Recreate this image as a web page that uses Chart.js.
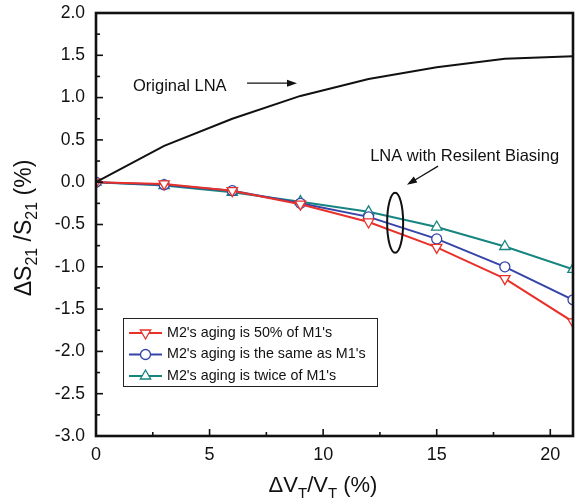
<!DOCTYPE html>
<html>
<head>
<meta charset="utf-8">
<script src="https://cdn.jsdelivr.net/npm/chart.js@4"></script>
<style>
  html, body { margin: 0; padding: 0; background: #fff; }
  #wrap { width: 575px; height: 501px; }
</style>
</head>
<body>
<div id="wrap"><canvas id="c" width="575" height="501"></canvas></div>
<script>
// values
const xValues   = [0, 3, 6, 9, 12, 15, 18, 21];
const original  = [0, 0.43, 0.75, 1.02, 1.22, 1.36, 1.46, 1.49];
const half      = [0, -0.02, -0.10, -0.26, -0.47, -0.77, -1.14, -1.65];
const same      = [0, -0.03, -0.10, -0.25, -0.41, -0.67, -1.00, -1.39];
const twice     = [0, -0.04, -0.12, -0.23, -0.35, -0.53, -0.76, -1.03];
const seriesLabels = ["M2's aging is 50% of M1's", "M2's aging is the same as M1's", "M2's aging is twice of M1's"];
const xTicks = [0, 5, 10, 15, 20];
const yTicks = [2.0, 1.5, 1.0, 0.5, 0.0, -0.5, -1.0, -1.5, -2.0, -2.5, -3.0];

const FONT = '"Liberation Sans", Arial, Helvetica, sans-serif';
const RED = '#e8312a', BLUE = '#3544a8', TEAL = '#16857f';

const pts = arr => arr.map((v, i) => ({ x: xValues[i], y: v }));

function marked(label, data, color, style, rot, r) {
  return {
    label, data: pts(data), borderColor: color, borderWidth: 2,
    pointStyle: style, rotation: rot, pointRadius: r,
    pointBackgroundColor: '#fff', pointBorderColor: color, pointBorderWidth: 1.3
  };
}

// frame, inward ticks, axis titles, annotations, legend
const decor = {
  id: 'decor',
  afterDraw(chart) {
    const { ctx, chartArea: a, scales: { x, y } } = chart;
    ctx.save();
    ctx.strokeStyle = '#111';
    ctx.lineWidth = 1.6;
    for (let v = 0; v <= 21; v += 2.5) {
      const px = x.getPixelForValue(v), len = v % 5 === 0 ? 7 : 4;
      ctx.beginPath(); ctx.moveTo(px, a.bottom); ctx.lineTo(px, a.bottom - len); ctx.stroke();
    }
    for (let v = -3; v <= 2; v += 0.25) {
      const py = y.getPixelForValue(v), len = Math.abs(v * 2 - Math.round(v * 2)) < 1e-6 ? 7 : 4;
      ctx.beginPath(); ctx.moveTo(a.left, py); ctx.lineTo(a.left + len, py); ctx.stroke();
    }
    ctx.lineWidth = 2.6;
    ctx.strokeRect(a.left, a.top, a.right - a.left, a.bottom - a.top);

    // axis titles with subscripts
    ctx.fillStyle = '#111';
    ctx.textBaseline = 'alphabetic';
    function subText(parts, cx, cy, rotate, size) {
      const sub = Math.round(size * 0.68);
      ctx.save();
      ctx.translate(cx, cy);
      if (rotate) ctx.rotate(-Math.PI / 2);
      let w = 0;
      parts.forEach(p => { ctx.font = (p.sub ? sub : size) + 'px ' + FONT; w += ctx.measureText(p.t).width; });
      let xx = -w / 2;
      parts.forEach(p => {
        ctx.font = (p.sub ? sub : size) + 'px ' + FONT;
        ctx.fillText(p.t, xx, p.sub ? 12 : 6);
        xx += ctx.measureText(p.t).width;
      });
      ctx.restore();
    }
    subText([{ t: '\u0394S' }, { t: '21', sub: 1 }, { t: ' /S' }, { t: '21', sub: 1 }, { t: ' (%)' }], 25, 228, true, 23);
    subText([{ t: '\u0394V' }, { t: 'T', sub: 1 }, { t: '/V' }, { t: 'T', sub: 1 }, { t: ' (%)' }], 323, 486, false, 22);

    // annotations (data coordinates)
    const P = (vx, vy) => [x.getPixelForValue(vx), y.getPixelForValue(vy)];
    ctx.font = '16.5px ' + FONT;
    ctx.textAlign = 'left';
    let p = P(1.63, 1.08); ctx.fillText('Original LNA', p[0], p[1]);
    p = P(12.07, 0.25); ctx.fillText('LNA with Resilent Biasing', p[0], p[1]);
    function arrow(x0, y0, x1, y1) {
      const a0 = P(x0, y0), a1 = P(x1, y1);
      const ang = Math.atan2(a1[1] - a0[1], a1[0] - a0[0]);
      ctx.lineWidth = 1.2;
      ctx.beginPath(); ctx.moveTo(a0[0], a0[1]);
      ctx.lineTo(a1[0] - 6 * Math.cos(ang), a1[1] - 6 * Math.sin(ang)); ctx.stroke();
      ctx.beginPath();
      ctx.moveTo(a1[0], a1[1]);
      ctx.lineTo(a1[0] - 10 * Math.cos(ang) + 3.5 * Math.sin(ang), a1[1] - 10 * Math.sin(ang) - 3.5 * Math.cos(ang));
      ctx.lineTo(a1[0] - 10 * Math.cos(ang) - 3.5 * Math.sin(ang), a1[1] - 10 * Math.sin(ang) + 3.5 * Math.cos(ang));
      ctx.closePath(); ctx.fill();
    }
    arrow(6.65, 1.17, 8.85, 1.17);
    arrow(15.06, 0.19, 13.69, -0.03);
    const e = P(13.17, -0.48);
    ctx.lineWidth = 2;
    ctx.beginPath(); ctx.ellipse(e[0], e[1], 8, 30, 0, 0, Math.PI * 2); ctx.stroke();

    // legend
    const lx = a.left + 27, ly = a.top + 305;
    ctx.lineWidth = 1;
    ctx.strokeStyle = '#222';
    ctx.strokeRect(lx + 0.5, ly + 0.5, 254, 68);
    ctx.font = '14.3px ' + FONT;
    ctx.textBaseline = 'middle';
    chart.data.datasets.slice(1).forEach((ds, i) => {
      const yy = ly + 15 + i * 21.5;
      ctx.strokeStyle = ds.borderColor; ctx.lineWidth = 2;
      ctx.beginPath(); ctx.moveTo(lx + 6, yy); ctx.lineTo(lx + 39, yy); ctx.stroke();
      ctx.fillStyle = '#fff'; ctx.lineWidth = 1.3;
      Chart.helpers.drawPoint(ctx, { pointStyle: ds.pointStyle, rotation: ds.rotation, radius: ds.pointRadius, borderWidth: 1.3 }, lx + 22.5, yy);
      ctx.fillStyle = '#111';
      ctx.fillText(ds.label, lx + 44, yy);
    });
    ctx.restore();
  }
};

new Chart(document.getElementById('c'), {
  type: 'line',
  data: {
    datasets: [
      { label: 'Original LNA', data: pts(original), borderColor: '#111', borderWidth: 2, pointRadius: 0 },
      marked(seriesLabels[0], half, RED, 'triangle', 180, 6),
      marked(seriesLabels[1], same, BLUE, 'circle', 0, 5),
      marked(seriesLabels[2], twice, TEAL, 'triangle', 0, 6)
    ]
  },
  options: {
    responsive: false,
    animation: false,
    layout: { autoPadding: false, padding: { left: 0, right: 2, top: 13, bottom: 0 } },
    plugins: { legend: { display: false }, tooltip: { enabled: false } },
    scales: {
      x: {
        type: 'linear', min: 0, max: 21,
        grid: { display: false, drawTicks: false, tickLength: 0 }, border: { display: false },
        afterBuildTicks: s => { s.ticks = xTicks.map(v => ({ value: v })); },
        afterFit: s => { s.height = 65; s.paddingLeft = 0; s.paddingRight = 0; },
        ticks: { color: '#111', padding: 8, font: { family: FONT, size: 18 } }
      },
      y: {
        type: 'linear', min: -3, max: 2,
        grid: { display: false, drawTicks: false, tickLength: 0 }, border: { display: false },
        afterBuildTicks: s => { s.ticks = yTicks.map(v => ({ value: v })); },
        afterFit: s => { s.width = 96; s.paddingTop = 0; s.paddingBottom = 0; },
        ticks: { color: '#111', padding: 11, font: { family: FONT, size: 17.5 }, callback: v => v.toFixed(1) }
      }
    }
  },
  plugins: [decor]
});
</script>
</body>
</html>
